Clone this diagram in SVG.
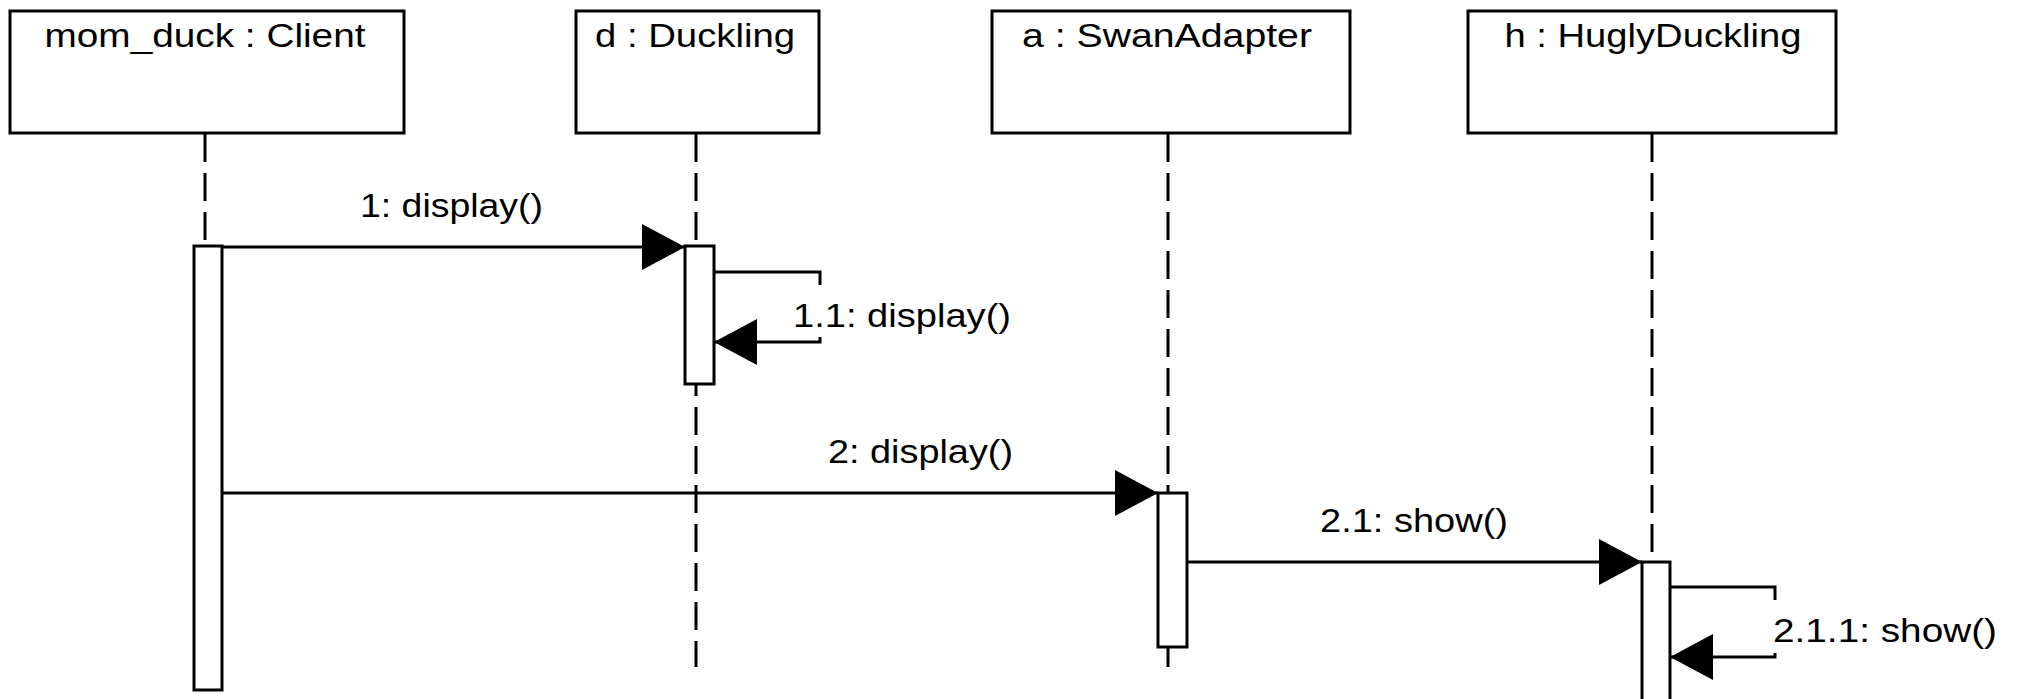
<svg xmlns="http://www.w3.org/2000/svg" width="2020" height="699" viewBox="0 0 2020 699">
<style>
.box{fill:#fff;stroke:#000;stroke-width:3}
.life{stroke:#000;stroke-width:3;stroke-dasharray:28 11;fill:none}
.act{fill:#fff;stroke:#000;stroke-width:3}
.msg{stroke:#000;stroke-width:3;fill:none}
.lbl{font-family:"Liberation Sans",Arial,sans-serif;font-size:33px;fill:#000}
</style>
<defs>
<marker id="ah" markerUnits="userSpaceOnUse" markerWidth="44" markerHeight="46" refX="43" refY="23" orient="auto">
<path d="M0,0 L43,23 L0,46 Z" fill="#000"/>
</marker>
</defs>
<rect width="2020" height="699" fill="#fff"/>
<g id="lifelines">
<line class="life" x1="205" y1="134" x2="205" y2="246"/>
<line class="life" x1="696" y1="134" x2="696" y2="667"/>
<line class="life" x1="1168" y1="134" x2="1168" y2="667"/>
<line class="life" x1="1652" y1="134" x2="1652" y2="562"/>
</g>
<g id="node-client">
<rect class="box" x="10" y="11" width="394" height="122"/>
<text class="lbl" x="205" y="47" text-anchor="middle" textLength="321" lengthAdjust="spacingAndGlyphs">mom_duck : Client</text>
<rect class="act" x="194" y="246" width="28" height="444"/>
</g>
<g id="node-duckling">
<rect class="box" x="576" y="11" width="243" height="122"/>
<text class="lbl" x="695" y="47" text-anchor="middle" textLength="200" lengthAdjust="spacingAndGlyphs">d : Duckling</text>
<rect class="act" x="685" y="246" width="29" height="138"/>
</g>
<g id="node-swanadapter">
<rect class="box" x="992" y="11" width="358" height="122"/>
<text class="lbl" x="1167" y="47" text-anchor="middle" textLength="290" lengthAdjust="spacingAndGlyphs">a : SwanAdapter</text>
<rect class="act" x="1158" y="493" width="29" height="154"/>
</g>
<g id="node-huglyduckling">
<rect class="box" x="1468" y="11" width="368" height="122"/>
<text class="lbl" x="1653" y="47" text-anchor="middle" textLength="297" lengthAdjust="spacingAndGlyphs">h : HuglyDuckling</text>
<rect class="act" x="1642" y="562" width="28" height="150"/>
</g>
<g id="connectors">
<line class="msg" x1="222" y1="247" x2="685" y2="247" marker-end="url(#ah)"/>
<text class="lbl" x="360" y="217" textLength="183" lengthAdjust="spacingAndGlyphs">1: display()</text>
<path class="msg" d="M714,272 H820 V342 H714" marker-end="url(#ah)"/>
<rect x="791" y="285" width="224" height="52" fill="#fff"/>
<text class="lbl" x="793" y="327" textLength="218" lengthAdjust="spacingAndGlyphs">1.1: display()</text>
<line class="msg" x1="222" y1="493" x2="1158" y2="493" marker-end="url(#ah)"/>
<text class="lbl" x="828" y="463" textLength="185" lengthAdjust="spacingAndGlyphs">2: display()</text>
<line class="msg" x1="1187" y1="562" x2="1642" y2="562" marker-end="url(#ah)"/>
<text class="lbl" x="1320" y="532" textLength="188" lengthAdjust="spacingAndGlyphs">2.1: show()</text>
<path class="msg" d="M1670,587 H1775 V657 H1670" marker-end="url(#ah)"/>
<rect x="1771" y="600" width="230" height="53" fill="#fff"/>
<text class="lbl" x="1773" y="642" textLength="224" lengthAdjust="spacingAndGlyphs">2.1.1: show()</text>
</g>
</svg>
